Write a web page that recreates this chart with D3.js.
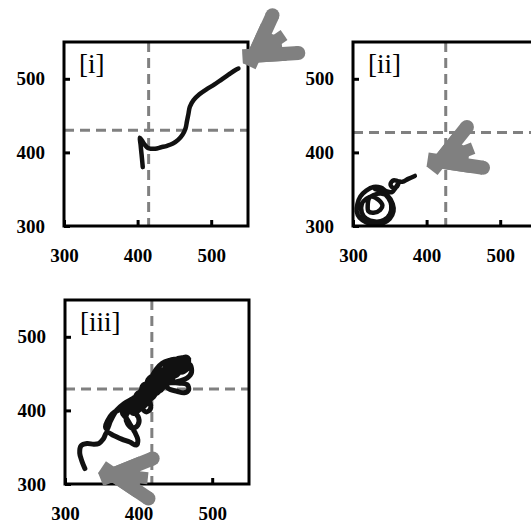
<!DOCTYPE html>
<html>
<head>
<meta charset="utf-8">
<script src="https://cdn.jsdelivr.net/npm/d3@7"></script>
<style>
  body { margin: 0; background: #fff; }
  svg { display: block; }
</style>
</head>
<body>
<svg id="chart" width="531" height="525"></svg>
<script>
// Shared axis setup for all three phase panels
const axisDomain = [300, 550];
const axisTickValues = [300, 400, 500];

// Panel titles
const panelLabels = ["[i]", "[ii]", "[iii]"];

// Reference (dashed) crosshair values per panel: [x, y]
const crossI = [415, 430];
const crossII = [426, 427];
const crossIII = [418, 429];

// Trajectory of panel [i]
const trajI = [
  [407, 380], [406, 391], [405, 401], [404, 411], [403, 420], [406, 416],
  [410, 410], [414, 406], [418, 405], [424, 405], [432, 407], [440, 409],
  [448, 412], [455, 417], [461, 424], [465, 432], [467, 442], [469, 452],
  [471, 462], [476, 471], [484, 479], [494, 486], [504, 492], [514, 499],
  [524, 506], [533, 512], [537, 514]
];

// Trajectory of panel [ii]
const trajII = [
  [384, 368], [375, 364], [367, 360], [361, 361], [355, 362], [351, 357],
  [354, 352], [360, 354], [362, 359], [358, 352], [353, 346], [346, 347],
  [338, 352], [328, 353], [318, 348], [310, 340], [306, 330], [305, 320],
  [309, 311], [318, 305], [330, 302], [341, 304], [350, 310], [355, 320],
  [354, 330], [348, 340], [338, 344], [328, 342], [322, 338], [320, 328],
  [321, 320], [328, 318], [337, 322], [340, 328], [334, 336], [326, 340],
  [318, 337], [312, 330], [312, 318], [318, 310], [330, 306], [342, 308],
  [350, 316], [352, 328], [348, 338], [340, 346], [330, 350]
];

// Trajectory of panel [iii]
const trajIII = [
  [327, 321], [323, 331], [320, 342], [322, 352], [330, 355], [339, 354],
  [346, 355], [352, 361], [357, 370],
  [366, 366], [377, 361], [388, 357], [397, 353], [399, 360], [395, 370],
  [389, 380], [383, 390], [378, 396],
  [384, 401], [393, 398], [400, 390], [399, 380], [392, 376], [385, 382], [383, 392],
  [388, 402], [394, 410], [400, 414], [404, 404], [410, 398], [416, 402],
  [414, 414], [408, 420], [400, 424], [396, 418], [402, 410], [410, 412],
  [418, 420], [420, 430], [414, 436], [406, 434], [404, 426], [410, 420],
  [420, 424], [428, 432], [426, 442], [418, 446], [412, 440], [416, 430],
  [426, 428], [434, 434], [440, 442], [436, 452], [428, 456], [422, 450],
  [428, 442], [438, 440], [448, 446], [452, 456], [448, 464], [440, 466],
  [436, 458], [444, 452], [456, 452], [464, 458], [468, 466], [466, 472],
  [458, 470], [452, 462], [460, 456], [470, 460],
  [462, 466], [452, 468], [444, 462], [440, 454], [432, 448], [424, 446],
  [420, 438], [412, 430], [404, 420], [396, 412], [390, 404], [392, 396],
  [398, 398], [404, 406], [408, 414], [402, 418], [396, 410], [400, 404],
  [408, 406], [414, 414], [420, 418], [424, 426], [418, 432], [412, 428],
  [414, 422], [422, 422], [430, 428], [434, 438], [430, 446], [424, 442],
  [428, 436], [436, 436], [444, 442], [446, 452], [442, 458], [436, 452],
  [442, 446], [452, 448], [458, 456], [462, 464], [456, 466], [452, 458],
  [458, 452], [466, 456], [470, 462],
  [472, 452], [466, 444], [456, 440], [446, 438], [438, 436], [440, 430],
  [452, 426], [462, 424], [468, 428], [466, 435], [456, 437], [444, 438],
  [436, 440], [428, 446], [418, 444], [410, 436], [404, 428], [398, 420],
  [392, 412], [386, 406], [380, 402],
  [388, 398], [400, 400], [406, 410], [398, 414], [394, 406], [402, 402],
  [410, 408], [416, 416], [410, 424], [404, 418], [412, 414], [420, 420],
  [426, 430], [420, 436], [414, 432], [420, 426], [428, 426], [434, 432],
  [438, 444], [432, 452], [426, 448], [432, 440], [442, 444], [448, 452],
  [446, 462], [440, 460], [446, 454], [456, 458], [462, 468],
  [454, 462], [444, 448], [432, 436], [420, 424], [406, 414], [392, 404],
  [372, 400], [364, 395], [358, 386], [355, 378], [357, 374], [362, 386],
  [370, 400], [380, 409], [392, 416], [404, 424], [412, 434], [418, 446],
  [424, 456], [432, 464], [442, 468], [452, 470], [462, 472], [468, 470]
];

// Arrow tips per panel (data units)
const arrowTips = [[543, 521], [400, 381], [345, 315]];

// Drawing setup
const svg = d3.select("#chart");
const size = 184;
const frames = [
  { left: 64, top: 42, label: panelLabels[0], cross: crossI, traj: trajI, width: 4.5, tip: arrowTips[0], angle: -34.5, spread: 31 },
  { left: 353, top: 42, label: panelLabels[1], cross: crossII, traj: trajII, width: 4.5, tip: arrowTips[1], angle: -21.5, spread: 30 },
  { left: 65, top: 300, label: panelLabels[2], cross: crossIII, traj: trajIII, width: 5, tip: arrowTips[2], angle: 6, spread: 28 }
];

const x = d3.scaleLinear().domain(axisDomain).range([0, size]);
const y = d3.scaleLinear().domain(axisDomain).range([size, 0]);
const gray = "#808080";
const rad = a => a * Math.PI / 180;

// Broad-headed arrow: filled wedge at the tip, two long rounded prongs, one short flat prong
function drawArrow(g, tx, ty, angle, spread) {
  const L = 56, Lm = 50, w = 14, wm = 12;
  const P = (a, r) => [tx + r * Math.cos(rad(a)), ty + r * Math.sin(rad(a))];
  const a1 = angle - spread, a2 = angle + spread;
  const wedge = [[tx, ty], P(a1, 44), P((a1 + angle) / 2, 40), P(angle, 46),
                 P((angle + a2) / 2, 42), P(a2, 44)];
  g.append("path")
    .attr("d", "M" + wedge.map(p => p.join(",")).join("L") + "Z")
    .attr("fill", gray);
  const m0 = P(angle, 20), m = P(angle, Lm);
  g.append("line")
    .attr("x1", m0[0]).attr("y1", m0[1]).attr("x2", m[0]).attr("y2", m[1])
    .attr("stroke", gray).attr("stroke-width", wm);
  [[a1, 90], [a2, -90]].forEach(([a, turn]) => {
    const n = [Math.cos(rad(a + turn)), Math.sin(rad(a + turn))];
    const s = [tx + n[0] * w / 2, ty + n[1] * w / 2];
    const e = [s[0] + L * Math.cos(rad(a)), s[1] + L * Math.sin(rad(a))];
    g.append("line")
      .attr("x1", s[0]).attr("y1", s[1]).attr("x2", e[0]).attr("y2", e[1])
      .attr("stroke", gray).attr("stroke-width", w);
    g.append("circle").attr("cx", e[0]).attr("cy", e[1]).attr("r", w / 2).attr("fill", gray);
  });
}

const line = d3.line()
  .x(d => x(d[0]))
  .y(d => y(d[1]))
  .curve(d3.curveCatmullRom.alpha(0.5));

const arrowLayer = [];

frames.forEach(f => {
  const g = svg.append("g").attr("transform", `translate(${f.left},${f.top})`);

  // dashed crosshair
  g.append("line")
    .attr("x1", x(f.cross[0])).attr("x2", x(f.cross[0]))
    .attr("y1", 0).attr("y2", size)
    .attr("stroke", gray).attr("stroke-width", 3).attr("stroke-dasharray", "10,6");
  g.append("line")
    .attr("x1", 0).attr("x2", size)
    .attr("y1", y(f.cross[1])).attr("y2", y(f.cross[1]))
    .attr("stroke", gray).attr("stroke-width", 3).attr("stroke-dasharray", "10,6");

  // trajectory
  g.append("path")
    .attr("d", line(f.traj))
    .attr("fill", "none")
    .attr("stroke", "#111")
    .attr("stroke-width", f.width)
    .attr("stroke-linejoin", "round")
    .attr("stroke-linecap", "round");

  // axes with inward ticks
  const ax = g.append("g").attr("transform", `translate(0,${size})`)
    .call(d3.axisBottom(x).tickValues(axisTickValues).tickSize(-6).tickPadding(23));
  const ay = g.append("g")
    .call(d3.axisLeft(y).tickValues(axisTickValues).tickSize(-6).tickPadding(19));
  [ax, ay].forEach(a => {
    a.select(".domain").remove();
    a.selectAll(".tick line").attr("stroke", "#000").attr("stroke-width", 3);
    a.selectAll(".tick text")
      .attr("font-family", "'Liberation Serif', 'Times New Roman', serif")
      .attr("font-weight", "bold")
      .attr("font-size", 19)
      .attr("fill", "#000");
  });

  // frame
  g.append("rect")
    .attr("width", size).attr("height", size)
    .attr("fill", "none").attr("stroke", "#000").attr("stroke-width", 3);

  // panel title
  g.append("text")
    .attr("x", 15).attr("y", 31)
    .attr("font-family", "'Liberation Serif', 'Times New Roman', serif")
    .attr("font-size", 27)
    .attr("fill", "#000")
    .text(f.label);

  arrowLayer.push([f.left + x(f.tip[0]), f.top + y(f.tip[1]), f.angle, f.spread]);
});

// arrows sit above all panels
const ag = svg.append("g");
arrowLayer.forEach(a => drawArrow(ag, a[0], a[1], a[2], a[3]));
</script>
</body>
</html>
